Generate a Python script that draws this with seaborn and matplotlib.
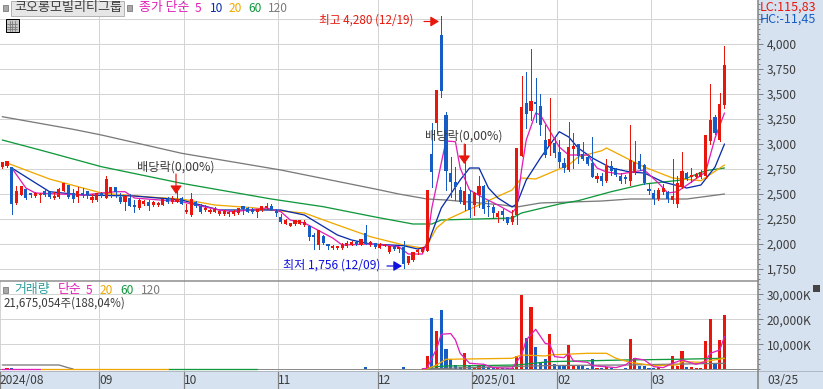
import matplotlib
matplotlib.use("Agg")
import matplotlib.pyplot as plt
import matplotlib.patches as patches
from matplotlib.lines import Line2D
from matplotlib.ticker import MultipleLocator
from matplotlib.transforms import ScaledTranslation
import numpy as np
import pandas as pd
import seaborn as sns

# === Candles: open, close, high, low ===
opens = [2767,2777,2767,2410,2493,2550,2510,2485,2490,2530,2525,2460,2470,2530,2590,2510,2470,2510,2530,2445,
         2440,2510,2460,2510,2570,2467,2417,2460,2393,2360,2400,2420,2387,2390,2393,2453,2417,2423,2460,2317,
         2293,2417,2383,2337,2317,2323,2300,2297,2297,2297,2310,2377,2363,2350,2323,2337,2357,2383,2330,2270,
         2203,2183,2203,2203,2190,2183,2093,1993,2083,1993,1957,1957,1957,1983,1993,2017,1993,2110,1990,2010,
         1963,1983,1917,1977,1950,1970,1810,1837,1917,1923,1927,2900,3213,4090,3290,2713,2623,2540,2390,2500,
         2390,2490,2580,2380,2373,2267,2327,2267,2220,2290,2883,3413,3333,3420,3380,3040,2980,3013,2920,2807,
         2740,2953,2997,2900,2867,2807,2650,2680,2633,2783,2747,2683,2673,2633,2707,2830,2790,2550,2507,2447,
         2523,2520,2440,2400,2567,2707,2667,2667,2673,2680,3030,3267,3040,3390]
closes = [2820,2827,2403,2533,2577,2460,2493,2510,2505,2490,2470,2480,2550,2610,2470,2450,2530,2490,2490,2470,
          2510,2480,2650,2570,2517,2417,2477,2383,2370,2437,2433,2383,2417,2410,2450,2417,2463,2453,2403,2337,
          2450,2383,2317,2357,2343,2350,2327,2327,2320,2330,2357,2350,2323,2317,2350,2383,2383,2343,2310,2217,
          2243,2210,2237,2237,2223,2070,2070,2143,2010,1983,1983,1983,2003,2010,2017,2003,2050,2003,2017,1967,
          2003,2003,1977,1950,1970,1803,1883,1923,1943,1957,2537,2723,3540,3533,2733,2620,2573,2423,2530,2340,
          2507,2580,2347,2367,2307,2307,2290,2213,2280,2960,3373,3300,3430,3400,3187,2893,3047,2913,2820,2763,
          2970,2980,2880,2847,2797,2673,2680,2633,2780,2730,2693,2633,2650,2840,2817,2747,2607,2530,2447,2540,
          2563,2447,2480,2607,2730,2647,2690,2697,2717,3090,3240,3107,3400,3790]
highs = [2825,2830,2770,2577,2580,2550,2510,2520,2510,2545,2530,2520,2560,2610,2590,2550,2570,2560,2530,2500,
         2510,2520,2683,2570,2570,2510,2480,2500,2440,2450,2440,2440,2430,2420,2455,2470,2480,2530,2470,2400,
         2510,2430,2400,2390,2350,2370,2335,2340,2330,2340,2360,2385,2375,2360,2350,2385,2410,2400,2350,2300,
         2250,2215,2245,2240,2240,2190,2110,2145,2090,2005,1990,1985,2010,2030,2030,2030,2050,2193,2030,2015,
         2010,2005,1980,1985,1975,2030,1885,1925,1950,1970,2537,3210,3540,4280,3323,2873,2773,2573,3000,2540,
         2520,2680,2590,2440,2390,2333,2347,2273,2340,2960,3680,3723,3947,3657,3497,3190,3457,3080,3040,2857,
         3217,3107,3000,3023,2880,3073,2713,2710,2847,2830,2760,2710,2690,3190,3030,2900,2800,2607,2540,2560,
         2600,2535,2850,2680,2920,2720,2760,2710,2740,3090,3600,3290,3507,3980]
lows = [2760,2770,2303,2405,2490,2455,2470,2470,2420,2480,2460,2455,2465,2530,2460,2420,2420,2470,2460,2420,
        2435,2470,2460,2470,2470,2410,2343,2380,2320,2350,2395,2340,2385,2385,2390,2410,2415,2420,2400,2310,
        2280,2370,2315,2330,2315,2320,2290,2290,2280,2290,2305,2300,2320,2310,2270,2330,2350,2340,2280,2215,
        2200,2180,2195,2200,2180,2040,1950,1950,2000,1950,1955,1955,1955,1975,1990,1990,1990,2000,1985,1965,
        1960,1980,1915,1940,1920,1756,1805,1835,1900,1920,1927,2567,3110,3473,2540,2473,2440,2407,2340,2267,
        2290,2373,2307,2280,2260,2223,2240,2200,2200,2200,2880,3163,3240,3223,3090,2873,2890,2873,2773,2723,
        2735,2757,2807,2840,2790,2673,2623,2590,2625,2690,2680,2607,2607,2590,2700,2745,2600,2500,2400,2440,
        2500,2423,2413,2373,2560,2640,2620,2660,2660,2660,3000,3100,3035,3357]

# === Volume (thousand shares), only the late part is readable ===
volume_late = [5333,20667,15333,23733,8133,4133,1700,1000,6667,1500,700,1700,1500,1100,1000,700,700,500,500,5333,
               29700,12667,24900,9000,2800,4100,14100,2100,1500,1500,9700,1500,1500,1500,500,4100,500,500,1100,400,
               300,300,500,12100,4500,1300,1300,500,500,800,300,300,5300,1500,7300,1100,900,500,500,11300,
               20100,2400,11700,21700]
volume_early = [300,350,500,280,240,220,150,150,180,200,160,130,180,220,200,160,150,130,120,110,
                130,110,300,200,170,130,170,120,100,140,110,100,110,90,120,100,120,110,110,100,
                180,140,120,90,80,90,80,80,90,90,100,110,100,90,90,100,110,100,120,170,
                130,110,110,100,100,200,170,220,180,110,100,90,110,110,100,100,120,800,130,130,
                120,100,200,120,130,800,240,200,170,170]
volumes = volume_early + volume_late

# === Price moving averages, knots ===
ma5_idx = [2,5,7,17,24,26,28,38,41,46,49,56,59,61,64,66,70,72,78,84,86,89,90,91,93,94,96,97,99,102,105,108,109,
           110,111,113,114,118,120,124,126,128,131,136,139,141,143,146,149,151,153]
ma5_val = [2760,2560,2510,2490,2523,2523,2460,2423,2390,2340,2323,2360,2323,2240,2210,2160,2060,1990,2000,1973,
           1900,1900,2023,2360,2810,3030,3023,2760,2540,2460,2390,2310,2370,2740,3040,3310,3290,2970,2890,2890,
           2760,2720,2700,2740,2610,2510,2523,2620,2720,3060,3310]
ma10_idx = [2,10,17,28,38,46,59,64,71,74,78,85,88,90,91,93,97,99,101,103,105,108,109,111,114,118,120,122,125,129,
            133,136,140,145,148,151,153]
ma10_val = [2760,2523,2490,2480,2440,2340,2340,2290,2090,2040,2000,1983,1950,1973,2110,2360,2640,2760,2760,2560,
            2460,2370,2400,2640,2860,3123,3070,2960,2860,2760,2720,2710,2620,2560,2590,2770,3000]
ma20_idx = [1,10,21,31,38,45,53,59,64,71,78,85,89,90,92,94,102,108,110,113,120,122,127,128,133,136,142,148,153]
ma20_val = [2810,2650,2510,2470,2450,2390,2363,2330,2310,2190,2073,1990,1960,1990,2160,2240,2413,2540,2660,2650,
            2790,2870,2933,2960,2840,2770,2660,2633,2790]
ma60_idx = [0,8,21,38,57,68,79,87,91,93,108,110,118,122,129,136,144,149,153]
ma60_val = [3040,2940,2773,2607,2450,2373,2270,2200,2200,2240,2260,2310,2400,2433,2523,2600,2640,2733,2760]
ma120_idx = [0,15,21,38,59,79,84,90,94,106,109,114,127,133,145,153]
ma120_val = [3273,3147,3090,2907,2740,2550,2500,2450,2440,2390,2370,2410,2430,2450,2450,2500]

# === Volume moving averages, the visible stretches ===
vma5_early_idx = [0,8]
vma5_early_val = [130,130]
vma5_idx = [89,90,91,92,93,95,96,97,99,102,104,108,110,111,113,115,116,117,119,120,121,124,125,130,132,134,136,
            138,140,142,144,147,149,150,152,153]
vma5_val = [200,400,4400,8150,14000,14300,11730,6400,2400,2000,670,400,5700,11700,16000,10400,10000,5060,4660,
            6400,3330,2800,1470,670,1730,4400,3730,1070,670,2400,3730,2000,3060,6400,7730,13060]
vma20_early_idx = [8,35]
vma20_early_val = [130,130]
vma20_idx = [89,90,92,94,108,110,115,116,124,128,130,133,138,143,144,148,150,153]
vma20_val = [120,130,1730,4000,4400,5730,5330,5730,6400,6400,4400,2800,1470,1730,3060,2800,3460,4400]
vma60_early_idx = [35,54]
vma60_early_val = [130,130]
vma60_idx = [89,90,91,94,101,109,116,132,143,153]
vma60_val = [120,130,930,1330,1470,1730,3060,3730,4000,4400]
vma120_idx = [0,12,14,15]
vma120_val = [1730,1730,600,130]
vma120_late_idx = [89,100,116,132,153]
vma120_late_val = [130,700,1500,1730,2400]

month_starts = [21, 39, 59, 80, 100, 118, 138]
month_labels = ["2024/08", "09", "10", "11", "12", "2025/01", "02", "03"]
price_ticks = [1750, 2000, 2250, 2500, 2750, 3000, 3250, 3500, 3750, 4000, 4250]
vol_ticks = [10000, 20000, 30000]

RED = "#E8170D"
BLUE = "#155DC4"
MAGENTA = "#E020B8"
NAVY = "#0A2DA8"
ORANGE = "#F0A800"
GREEN = "#10983C"
GRAY = "#7A7A7A"
STRIP = "#D6E2F0"
GRID = "#D4D4D4"
TEXT = "#3C3C3C"

sns.set_style("white")
plt.rcParams["font.family"] = ["Noto Sans CJK KR", "DejaVu Sans"]

W, H = 823, 389
PX = 72 / 100  # one pixel in points
fig = plt.figure(figsize=(W / 100, H / 100), dpi=100, facecolor=STRIP)


def add_axes_px(x0, y0, x1, y1):
    return fig.add_axes([x0 / W, 1 - y1 / H, (x1 - x0) / W, (y1 - y0) / H])


def put(x, y, s, color=TEXT, size=8.6, **kw):
    fig.text(x / W, 1 - y / H, s, color=color, fontsize=size, va="center", ha="left", **kw)


ax_p = add_axes_px(0, 0, 758, 281)
ax_v = add_axes_px(0, 281, 758, 371)

n = len(opens)
df = pd.DataFrame({"idx": np.arange(n), "open": opens, "close": closes, "high": highs, "low": lows, "vol": volumes})
df["up"] = df["close"] >= df["open"]
df["body_low"] = df[["open", "close"]].min(axis=1)
df["body"] = (df["close"] - df["open"]).abs().clip(lower=15)

LINE = 1.0 * PX
MA_LINE = 1.3 * PX
BAR = 0.66

# moving averages go under the candles
for xs, ys, col in [(ma120_idx, ma120_val, GRAY), (ma60_idx, ma60_val, GREEN), (ma20_idx, ma20_val, ORANGE),
                    (ma10_idx, ma10_val, NAVY), (ma5_idx, ma5_val, MAGENTA)]:
    sns.lineplot(x=xs, y=ys, color=col, linewidth=MA_LINE, ax=ax_p, estimator=None, sort=False, zorder=2)

for up, col in [(True, RED), (False, BLUE)]:
    part = df[df["up"] == up]
    ax_p.vlines(part["idx"], part["low"], part["high"], color=col, linewidth=LINE, antialiased=False, zorder=3)
    sns.barplot(data=part, x="idx", y="body", bottom=part["body_low"].values, native_scale=True, color=col,
                width=BAR, saturation=1, errorbar=None, linewidth=0, antialiased=False, ax=ax_p, zorder=3)

# volume bars
for up, col in [(True, RED), (False, BLUE)]:
    part = df[df["up"] == up]
    sns.barplot(data=part, x="idx", y="vol", native_scale=True, color=col, width=BAR, saturation=1,
                errorbar=None, linewidth=0, antialiased=False, ax=ax_v, zorder=2)

for xs, ys, col in [(vma120_idx, vma120_val, GRAY), (vma120_late_idx, vma120_late_val, GRAY),
                    (vma60_early_idx, vma60_early_val, GREEN), (vma60_idx, vma60_val, GREEN),
                    (vma20_early_idx, vma20_early_val, ORANGE), (vma20_idx, vma20_val, ORANGE),
                    (vma5_early_idx, vma5_early_val, MAGENTA), (vma5_idx, vma5_val, MAGENTA)]:
    sns.lineplot(x=xs, y=ys, color=col, linewidth=MA_LINE, ax=ax_v, estimator=None, sort=False, zorder=3)

# scales: 10 px per 100 won, 2.5 px per 1000K, 4.72 px per candle
xlim = (-0.487, 160.1)
for ax in (ax_p, ax_v):
    ax.set_xlim(xlim)
    ax.set_xlabel("")
    ax.set_ylabel("")
    ax.set_facecolor("white")
    ax.yaxis.tick_right()
    ax.yaxis.set_label_position("right")
    for s in ax.spines.values():
        s.set_visible(False)
    ax.grid(True, color=GRID, linewidth=LINE, antialiased=False, zorder=0)
    ax.set_axisbelow(True)
ax_p.set_ylim(1630, 4440)
ax_v.set_ylim(-680, 35320)
ax_v.axhline(0, color="#8C8C8C", linewidth=LINE, antialiased=False, zorder=2.5)

gridx = [m - 0.5 for m in month_starts]
ax_p.set_xticks(gridx)
ax_p.tick_params(axis="x", bottom=False, labelbottom=False)
ax_p.set_yticks(price_ticks)
ax_p.set_yticklabels([f"{p:,}" if p <= 4000 else "" for p in price_ticks])
ax_p.yaxis.set_minor_locator(MultipleLocator(50))

ax_v.set_xticks([xlim[0]] + gridx)
ax_v.set_xticklabels(month_labels, ha="left", color=TEXT, fontsize=8.6)
shift = ScaledTranslation(2 / 100, 0, fig.dpi_scale_trans)
for lab in ax_v.get_xticklabels():
    lab.set_transform(lab.get_transform() + shift)
ax_v.tick_params(axis="x", bottom=True, length=18 * PX, width=1.2 * PX, color="#808080", pad=-15 * PX)
ax_v.set_yticks(vol_ticks)
ax_v.set_yticklabels([f"{v:,}K" for v in vol_ticks])
ax_v.yaxis.set_minor_locator(MultipleLocator(2000))

for ax in (ax_p, ax_v):
    ax.tick_params(axis="y", which="major", right=True, length=5 * PX, width=1 * PX, color="#808080",
                   labelsize=8.6, labelcolor=TEXT, pad=3.5 * PX)
    ax.tick_params(axis="y", which="minor", right=True, length=2.5 * PX, width=1 * PX, color="#808080")

# panel separators
fig.add_artist(Line2D([0, 758 / W], [1 - 281 / H] * 2, color="#8C8C8C", linewidth=1.5 * PX))
fig.add_artist(Line2D([0, 1], [1 - 371 / H] * 2, color="#B0B8C4", linewidth=1 * PX))
fig.add_artist(Line2D([758 / W] * 2, [0, 1], color="#808080", linewidth=1.5 * PX))

# header
fig.add_artist(patches.Rectangle((10.5 / W, 1 - 15.5 / H), 113 / W, 14.5 / H, transform=fig.transFigure,
                                 facecolor="#E6E6E6", edgecolor="#B4B4B4", linewidth=1 * PX))
for bx, by in [(3, 5), (127, 5), (3, 287)]:
    fig.add_artist(patches.Rectangle((bx / W, 1 - (by + 6) / H), 5 / W, 6 / H, transform=fig.transFigure,
                                     facecolor="#A8A8A8", edgecolor="#777777", linewidth=0.8 * PX))
put(14, 8, "코오롱모빌리티그룹", size=9.4)
put(139, 8, "종가 단순", MAGENTA, 9.3)
put(195, 8, "5", MAGENTA)
put(210, 8, "10", NAVY)
put(229, 8, "20", ORANGE)
put(248, 8, "60", GREEN)
put(268, 8, "120", GRAY)

# small table icon
fig.add_artist(patches.Rectangle((5.5 / W, 1 - 32 / H), 13 / W, 13 / H, transform=fig.transFigure,
                                 facecolor="#C8C8C8", edgecolor="black", linewidth=1 * PX))
for gx in (9.5, 12, 14.5):
    fig.add_artist(Line2D([gx / W] * 2, [1 - 30.5 / H, 1 - 21 / H], color="#777777", linewidth=0.8 * PX))
for gy in (23.5, 26.5, 29):
    fig.add_artist(Line2D([7 / W, 17 / W], [1 - gy / H] * 2, color="#777777", linewidth=0.8 * PX))

put(760, 7, "LC:115,83", RED, 9)
put(760, 19, "HC:-11,45", BLUE, 9)

put(14, 290, "거래량", "#2E9C9C", 9.3)
put(58, 290, "단순", MAGENTA, 9.3)
put(86, 290, "5", MAGENTA)
put(100, 290, "20", ORANGE)
put(120, 290, "60", GREEN)
put(141, 290, "120", GRAY)
put(4, 303, "21,675,054주(188,04%)", size=8.3)
put(767, 380, "03/25")

# expand icon
fig.add_artist(patches.Rectangle((813 / W, 1 - 292 / H), 7 / W, 7 / H, transform=fig.transFigure,
                                 facecolor="#444444", edgecolor="none"))

# annotations, placed in pixels
put(319, 20, "최고 4,280 (12/19)", "#E8170D", 8.4)
put(283, 265, "최저 1,756 (12/09)", "#1010E0", 8.7)
put(137, 167, "배당락(0,00%)", size=8.8)
put(425, 136, "배당락(0,00%)", size=8.8)


def arrow(x0, y0, x1, y1, col, head):
    fig.add_artist(patches.FancyArrowPatch((x0 / W, 1 - y0 / H), (x1 / W, 1 - y1 / H), transform=fig.transFigure,
                                           arrowstyle=head, color=col, linewidth=1.2 * PX, mutation_scale=1,
                                           shrinkA=0, shrinkB=0, zorder=5))


arrow(424, 21.5, 439, 21.5, RED, "-|>,head_length=5,head_width=3")
arrow(387, 266, 402, 266, "#1010E0", "-|>,head_length=5,head_width=3")
arrow(176, 174, 176, 194, RED, "-|>,head_length=5,head_width=3.5")
arrow(464.3, 144, 464.3, 164, RED, "-|>,head_length=5,head_width=3.5")

fig.savefig("out.png", dpi=100, facecolor=fig.get_facecolor())
